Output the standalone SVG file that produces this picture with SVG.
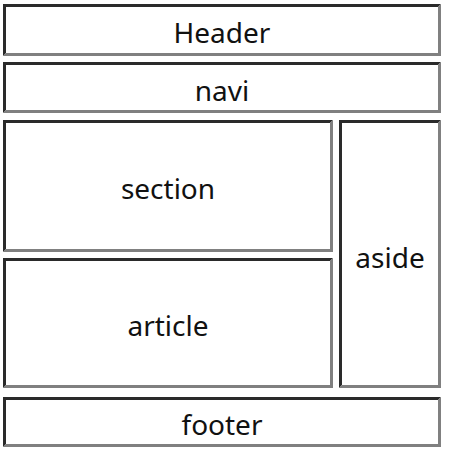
<svg xmlns="http://www.w3.org/2000/svg" width="450" height="455" viewBox="0 0 450 455">
<style>
.bg{fill:#ffffff}
.dk{fill:#2a2a2a}
.lt{fill:#808080}
text{font-family:"Noto Sans","Open Sans",sans-serif;font-size:28px;fill:#111;text-anchor:middle;dominant-baseline:central}
</style>
<rect width="450" height="455" fill="#ffffff"/>
<g id="header">
<polygon class="dk" points="3,4 441,4 438,7 6,7 6,53 3,56"/>
<polygon class="lt" points="441,4 441,56 3,56 6,53 438,53 438,7"/>
<text x="222" y="32">Header</text>
</g>
<g id="navi">
<polygon class="dk" points="3,62 441,62 438,65 6,65 6,110 3,113"/>
<polygon class="lt" points="441,62 441,113 3,113 6,110 438,110 438,65"/>
<text x="222" y="90">navi</text>
</g>
<g id="section">
<polygon class="dk" points="3,120 333,120 330,123 6,123 6,249 3,252"/>
<polygon class="lt" points="333,120 333,252 3,252 6,249 330,249 330,123"/>
<text x="168" y="188">section</text>
</g>
<g id="article">
<polygon class="dk" points="3,258 333,258 330,261 6,261 6,385 3,388"/>
<polygon class="lt" points="333,258 333,388 3,388 6,385 330,385 330,261"/>
<text x="168" y="325">article</text>
</g>
<g id="aside">
<polygon class="dk" points="339,120 441,120 438,123 342,123 342,385 339,388"/>
<polygon class="lt" points="441,120 441,388 339,388 342,385 438,385 438,123"/>
<text x="390" y="257">aside</text>
</g>
<g id="footer">
<polygon class="dk" points="3,397 441,397 438,400 6,400 6,444 3,447"/>
<polygon class="lt" points="441,397 441,447 3,447 6,444 438,444 438,400"/>
<text x="222" y="424">footer</text>
</g>
<g id="connectors"></g>
</svg>
